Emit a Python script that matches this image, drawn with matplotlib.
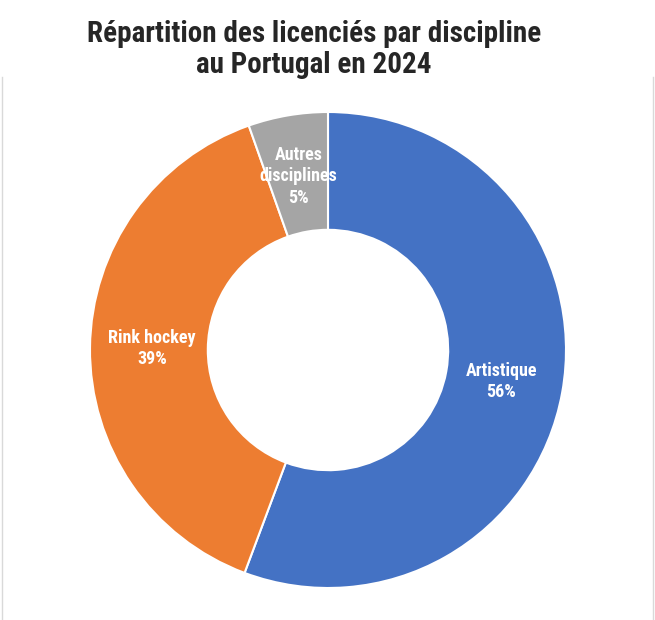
import matplotlib
matplotlib.use("Agg")
import matplotlib.pyplot as plt
from matplotlib.lines import Line2D
import numpy as np

# Données
categories = ["Artistique", "Rink hockey", "Autres\ndisciplines"]
valeurs = [55.7, 38.9, 5.4]
etiquettes_pct = ["56%", "39%", "5%"]
couleurs = ["#4472C4", "#ED7D31", "#A5A5A5"]

plt.rcParams["font.family"] = ["Roboto Condensed", "Roboto", "DejaVu Sans"]

fig = plt.figure(figsize=(6.55, 6.2), dpi=100)
ax = fig.add_axes([90 / 655, 32 / 620, 476 / 655, 476 / 620])

wedges, _ = ax.pie(valeurs, colors=couleurs, startangle=90, counterclock=False,
                   radius=1.0, wedgeprops=dict(width=0.495, edgecolor="white", linewidth=1.5))
ax.set_xlim(-1, 1)
ax.set_ylim(-1, 1)
ax.set_aspect("equal")
ax.axis("off")

# étiquettes au milieu de l'anneau
r_lab = 0.74
for w, cat, pct in zip(wedges, categories, etiquettes_pct):
    ang = np.deg2rad((w.theta1 + w.theta2) / 2)
    x, y = r_lab * np.cos(ang), r_lab * np.sin(ang)
    ax.text(x, y, cat + "\n" + pct, ha="center", va="center", color="white",
            fontsize=13, fontweight="bold", linespacing=1.25)

fig.suptitle("Répartition des licenciés par discipline\nau Portugal en 2024",
             x=314 / 655, y=0.968, fontsize=21, fontweight="bold", color="#262626",
             linespacing=1.15)

# cadre gris clair
fig.add_artist(Line2D([1.5 / 655, 1.5 / 655], [0, 1 - 77 / 620], color="#D9D9D9", lw=1))
fig.add_artist(Line2D([653 / 655, 653 / 655], [0, 1 - 77 / 620], color="#D9D9D9", lw=1))

fig.savefig("out.png", dpi=100)
